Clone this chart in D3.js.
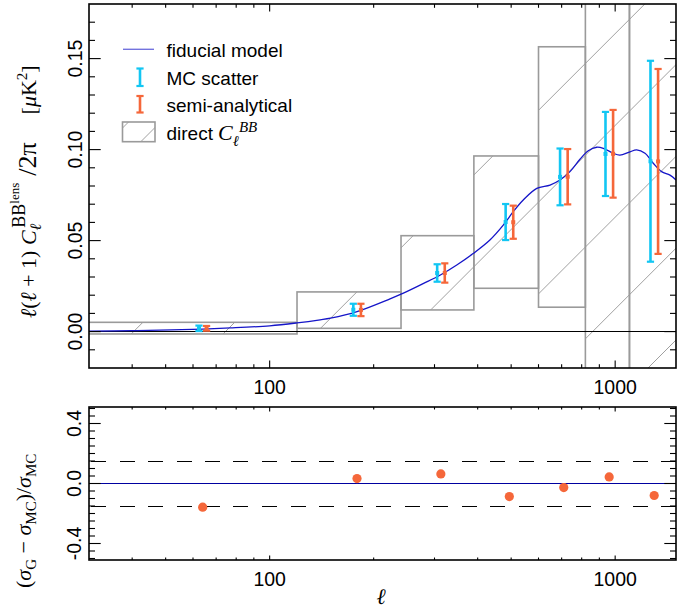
<!DOCTYPE html>
<html><head><meta charset="utf-8">
<script src="https://cdn.jsdelivr.net/npm/d3@7"></script>
<style>body{margin:0;background:#fff} svg{display:block}</style>
</head><body><svg id="c" width="697" height="610"></svg>
<script>
// ---------------- DATA ----------------
// band-power bins (multipole edges) and direct C_l^BB boxes (lower / upper value)
const binLo    = [20, 120, 240, 390, 600, 820, 1100];
const binHi    = [120, 240, 390, 600, 820, 1100, 2000];
const directLo = [-0.0013, 0.0018, 0.0119, 0.0238, 0.0134, -0.08, -0.08];
const directHi = [0.0051, 0.0218, 0.0527, 0.0965, 0.1565, 0.30, 0.30];
// bin centres
const ellCenters = [64, 179, 313, 494, 710, 961, 1297];
// MC scatter error bars
const mcMean = [0.0018, 0.0120, 0.0322, 0.0602, 0.0850, 0.0976, 0.0936];
const mcErr  = [0.0015, 0.0033, 0.0048, 0.0099, 0.0156, 0.0231, 0.0552];
// semi-analytical error bars
const saMean = [0.0018, 0.0119, 0.0322, 0.0601, 0.0851, 0.0977, 0.0935];
const saErr  = [0.0013, 0.0034, 0.0053, 0.0091, 0.0152, 0.0241, 0.0508];
// relative difference (sigma_G - sigma_MC)/sigma_MC
const ratio = [-0.158, 0.033, 0.064, -0.087, -0.027, 0.044, -0.080];
const ratioBand = [-0.15, 0.15];
// fiducial model
const modelEll = [30, 40, 52, 64, 77, 100, 120, 140, 150, 179, 223, 241, 279, 312, 348, 389, 434, 475, 507, 542, 593, 648, 692, 740, 791, 836, 884, 924, 987, 1032, 1104, 1154, 1220, 1289, 1363, 1441, 1500];
const modelVal = [0.0003, 0.0005, 0.0009, 0.0014, 0.0020, 0.0032, 0.0048, 0.0065, 0.0074, 0.0110, 0.0180, 0.0207, 0.0265, 0.0311, 0.0366, 0.0430, 0.0503, 0.0586, 0.0659, 0.0723, 0.0787, 0.0805, 0.0833, 0.0879, 0.0947, 0.0994, 0.1013, 0.1007, 0.0980, 0.0970, 0.0988, 0.0998, 0.0980, 0.0925, 0.0879, 0.0860, 0.0833];
// ticks
const xMajor = [100, 1000];
const xMinor = [40, 50, 60, 70, 80, 90, 200, 300, 400, 500, 600, 700, 800, 900];
const yTopMajor = [0.00, 0.05, 0.10, 0.15];
const yTopMinor = d3.range(-1, 18).map(i => i / 100);
const yBotMajor = [-0.4, 0.0, 0.4];
const yBotMinor = d3.range(-10, 11).map(i => i / 20);

// ---------------- LAYOUT ----------------
const svg = d3.select("#c");
const L = 89, R = 676;
const T1 = 4, B1 = 368;
const T2 = 407, B2 = 560;
const SANS = "'Liberation Sans', Arial, Helvetica, sans-serif";
const SERIF = "'Liberation Serif', 'Times New Roman', serif";
const CYAN = "#12c6f3", ORANGE = "#f5673a", BLUE = "#1515c8", GRAY = "#9a9a9a";

const x = d3.scaleLog().domain([30, 1500]).range([L, R]);
const y1 = d3.scaleLinear().domain([-0.02, 0.18]).range([B1, T1]);
const y2 = d3.scaleLinear().domain([-0.51, 0.51]).range([B2, T2]);

const defs = svg.append("defs");
defs.append("clipPath").attr("id", "clipTop").append("rect")
  .attr("x", L).attr("y", T1).attr("width", R - L).attr("height", B1 - T1);

// ---------------- TOP PANEL ----------------
const gTop = svg.append("g").attr("clip-path", "url(#clipTop)");
const boxes = binLo.map((lo, i) => ({lo, hi: binHi[i], vlo: directLo[i], vhi: directHi[i]}));
const HATCH = 91.8, HOFF = 6.2;
boxes.forEach((b, i) => {
  const bx0 = x(b.lo), bx1 = x(b.hi), by0 = y1(b.vhi), by1 = y1(b.vlo);
  defs.append("clipPath").attr("id", "cb" + i).append("rect")
    .attr("x", bx0).attr("y", by0).attr("width", bx1 - bx0).attr("height", by1 - by0);
  const g = gTop.append("g").attr("clip-path", "url(#cb" + i + ")");
  const cs = d3.range(Math.floor((L + T1) / HATCH) - 1, Math.ceil((R + B1) / HATCH) + 2).map(k => k * HATCH + HOFF);
  g.selectAll("line").data(cs).join("line")
    .attr("x1", L - 10).attr("y1", c => c - (L - 10))
    .attr("x2", R + 10).attr("y2", c => c - (R + 10))
    .attr("stroke", "#a0a0a0").attr("stroke-width", 1);
});
gTop.selectAll("rect.box").data(boxes).join("rect").attr("class", "box")
  .attr("x", d => x(d.lo)).attr("y", d => y1(d.vhi))
  .attr("width", d => x(d.hi) - x(d.lo)).attr("height", d => y1(d.vlo) - y1(d.vhi))
  .attr("fill", "none").attr("stroke", GRAY).attr("stroke-width", 1.6);

// zero line
gTop.append("line").attr("x1", L).attr("x2", R).attr("y1", y1(0)).attr("y2", y1(0))
  .attr("stroke", "#000").attr("stroke-width", 1).attr("shape-rendering", "crispEdges");

// model curve
const line = d3.line().x(d => x(d[0])).y(d => y1(d[1])).curve(d3.curveCatmullRom.alpha(0.5));
gTop.append("path").datum(modelEll.map((e, i) => [e, modelVal[i]]))
  .attr("d", line).attr("fill", "none").attr("stroke", BLUE).attr("stroke-width", 1.3);

// error bars
function errBars(means, errs, color, dx) {
  const g = gTop.append("g");
  ellCenters.forEach((e, i) => {
    const cx = x(e) + dx, top = y1(means[i] + errs[i]), bot = y1(means[i] - errs[i]);
    g.append("line").attr("x1", cx).attr("x2", cx).attr("y1", top).attr("y2", bot)
      .attr("stroke", color).attr("stroke-width", 2.6);
    [top, bot].forEach(yy => g.append("line").attr("x1", cx - 3.6).attr("x2", cx + 3.6)
      .attr("y1", yy).attr("y2", yy).attr("stroke", color).attr("stroke-width", 2.2));
    g.append("rect").attr("x", cx - 2).attr("y", y1(means[i]) - 2).attr("width", 4).attr("height", 4)
      .attr("fill", color);
  });
}
errBars(mcMean, mcErr, CYAN, -3.7);
errBars(saMean, saErr, ORANGE, 3.9);

// ---------------- BOTTOM PANEL ----------------
const gBot = svg.append("g");
ratioBand.forEach(v => gBot.append("line").attr("x1", L).attr("x2", R).attr("y1", y2(v)).attr("y2", y2(v))
  .attr("stroke", "#000").attr("stroke-width", 1).attr("shape-rendering", "crispEdges")
  .attr("stroke-dasharray", "15,13.5").attr("stroke-dashoffset", -2));
gBot.append("line").attr("x1", L).attr("x2", R).attr("y1", y2(0)).attr("y2", y2(0))
  .attr("stroke", "#0000a0").attr("stroke-width", 1).attr("shape-rendering", "crispEdges");
gBot.selectAll("circle").data(ratio).join("circle")
  .attr("cx", (d, i) => x(ellCenters[i])).attr("cy", d => y2(d)).attr("r", 4.6)
  .attr("fill", ORANGE);

// ---------------- AXES ----------------
function frame(top, bot, ys, yMaj, yMin, xMajLen, xMinLen) {
  const g = svg.append("g");
  xMajor.concat(xMinor).forEach(v => {
    const len = xMajor.includes(v) ? xMajLen : xMinLen;
    g.append("line").attr("x1", x(v)).attr("x2", x(v)).attr("y1", bot).attr("y2", bot - len)
      .attr("stroke", "#000").attr("stroke-width", 1.1);
    g.append("line").attr("x1", x(v)).attr("x2", x(v)).attr("y1", top).attr("y2", top + len)
      .attr("stroke", "#000").attr("stroke-width", 1.1);
  });
  yMin.forEach(v => {
    const isMaj = yMaj.some(m => Math.abs(m - v) < 1e-9);
    const len = isMaj ? 11.7 : 6;
    g.append("line").attr("x1", L).attr("x2", L + len).attr("y1", ys(v)).attr("y2", ys(v))
      .attr("stroke", "#000").attr("stroke-width", 1.1);
    g.append("line").attr("x1", R).attr("x2", R - len).attr("y1", ys(v)).attr("y2", ys(v))
      .attr("stroke", "#000").attr("stroke-width", 1.1);
  });
  g.append("rect").attr("x", L).attr("y", top).attr("width", R - L).attr("height", bot - top)
    .attr("fill", "none").attr("stroke", "#000").attr("stroke-width", 1.6);
  xMajor.forEach(v => g.append("text").attr("x", x(v)).attr("y", bot + 25.5)
    .attr("text-anchor", "middle").attr("font-family", SANS).attr("font-size", 19.5).text(v));
}
frame(T1, B1, y1, yTopMajor, yTopMinor, 7.5, 3.8);
frame(T2, B2, y2, yBotMajor, yBotMinor, 4.5, 2.5);

yTopMajor.forEach(v => svg.append("text")
  .attr("transform", `translate(81.5,${y1(v)}) rotate(-90)`).attr("text-anchor", "middle")
  .attr("font-family", SANS).attr("font-size", 19.5).text(v.toFixed(2)));
yBotMajor.forEach(v => svg.append("text")
  .attr("transform", `translate(81,${y2(v)}) rotate(-90)`).attr("text-anchor", "middle")
  .attr("font-family", SANS).attr("font-size", 19.5).text(v.toFixed(1)));

// ---------------- TITLES ----------------
svg.append("text").attr("x", 381).attr("y", 604).attr("text-anchor", "middle")
  .attr("font-family", SERIF).attr("font-style", "italic").attr("font-size", 22).text("ℓ");

const ty = svg.append("text").attr("transform", "translate(36,318) rotate(-90)")
  .attr("font-family", SERIF).attr("font-size", 22);
ty.append("tspan").attr("font-style", "italic").text("ℓ");
ty.append("tspan").text("(");
ty.append("tspan").attr("font-style", "italic").text("ℓ");
ty.append("tspan").text(" + 1) ");
ty.append("tspan").attr("font-style", "italic").text("C");
ty.append("tspan").attr("font-style", "italic").attr("font-size", 16).attr("dy", 5).text("ℓ");
ty.append("tspan").attr("font-size", 18).attr("dy", -16).attr("dx", -4).text("BB");
ty.append("tspan").attr("font-size", 13).attr("dy", -6).text("lens");
ty.append("tspan").attr("font-size", 26).attr("dy", 17).attr("dx", 7).text("/2π");
ty.append("tspan").attr("dx", 28).text("[");
ty.append("tspan").attr("font-style", "italic").text("μ");
ty.append("tspan").text("K");
ty.append("tspan").attr("font-size", 15).attr("dy", -9).text("2");
ty.append("tspan").attr("dy", 9).text("]");

const tb = svg.append("text").attr("transform", "translate(31,588) rotate(-90)")
  .attr("font-family", SERIF).attr("font-size", 22);
tb.append("tspan").text("(");
tb.append("tspan").attr("font-style", "italic").text("σ");
tb.append("tspan").attr("font-size", 15).attr("dy", 5).text("G");
tb.append("tspan").attr("dy", -5).text(" − ");
tb.append("tspan").attr("font-style", "italic").text("σ");
tb.append("tspan").attr("font-size", 15).attr("dy", 5).text("MC");
tb.append("tspan").attr("dy", -5).text(")/");
tb.append("tspan").attr("font-style", "italic").text("σ");
tb.append("tspan").attr("font-size", 15).attr("dy", 5).text("MC");

// ---------------- LEGEND ----------------
const lg = svg.append("g");
const lgText = ["fiducial model", "MC scatter", "semi-analytical", "direct "];
const lgBase = [56.5, 84.5, 112, 140];
lgText.forEach((t, i) => lg.append("text").attr("x", 166.5).attr("y", lgBase[i])
  .attr("font-family", SANS).attr("font-size", 19).text(t));
lg.append("line").attr("x1", 123).attr("x2", 154).attr("y1", 49.3).attr("y2", 49.3)
  .attr("stroke", BLUE).attr("stroke-width", 1.4).attr("stroke-opacity", 0.6);
[[CYAN, 68.5, 86], [ORANGE, 96, 112.5]].forEach(([c, a, b]) => {
  lg.append("line").attr("x1", 140).attr("x2", 140).attr("y1", a).attr("y2", b).attr("stroke", c).attr("stroke-width", 2.6);
  [a, b].forEach(yy => lg.append("line").attr("x1", 136.4).attr("x2", 143.6).attr("y1", yy).attr("y2", yy)
    .attr("stroke", c).attr("stroke-width", 2.2));
});
defs.append("clipPath").attr("id", "clg").append("rect").attr("x", 122.5).attr("y", 122).attr("width", 32.5).attr("height", 19.7);
const lgh = lg.append("g").attr("clip-path", "url(#clg)");
[250.5, 282.5].forEach(c => lgh.append("line").attr("x1", 110).attr("y1", c - 110).attr("x2", 170).attr("y2", c - 170)
  .attr("stroke", "#a0a0a0").attr("stroke-width", 1));
lg.append("rect").attr("x", 122.5).attr("y", 122).attr("width", 32.5).attr("height", 19.7)
  .attr("fill", "none").attr("stroke", GRAY).attr("stroke-width", 1.6);
const dc = lg.append("text").attr("x", 218).attr("y", 140).attr("font-family", SERIF).attr("font-size", 22);
dc.append("tspan").attr("font-style", "italic").text("C");
dc.append("tspan").attr("font-style", "italic").attr("font-size", 15).attr("dy", 6).text("ℓ");
dc.append("tspan").attr("font-style", "italic").attr("font-size", 15).attr("dy", -14).attr("dx", 0).text("BB");
</script></body></html>
